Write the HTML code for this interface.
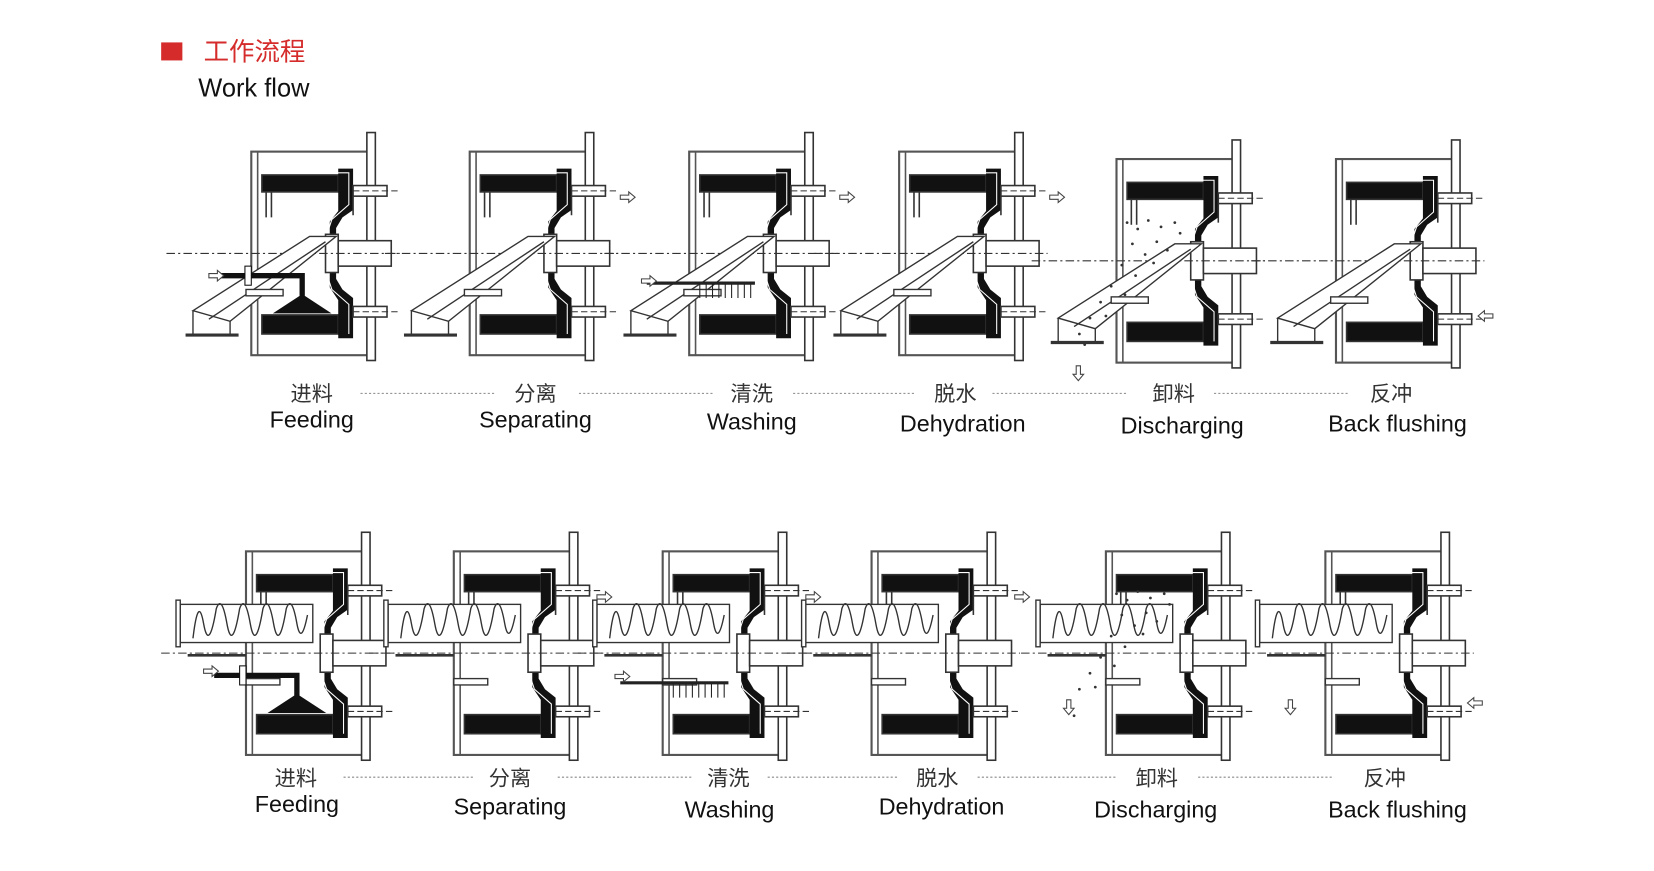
<!DOCTYPE html>
<html><head><meta charset="utf-8"><style>
html,body{margin:0;padding:0;background:#fff;}
svg{display:block;}
text{font-family:"Liberation Sans","Noto Sans CJK SC",sans-serif;}
</style></head><body>
<svg width="1654" height="871" viewBox="0 0 1654 871" xmlns="http://www.w3.org/2000/svg">
<defs>
<g id="m" stroke="#333" stroke-width="1.5" fill="none">
  <rect x="0" y="0" width="113" height="192" stroke="#555" stroke-width="2"/>
  <line x1="6" y1="0" x2="6" y2="192" stroke="#555"/>
  <rect x="109" y="-18" width="8" height="215" fill="#fff"/>
  <rect x="10" y="22" width="72" height="16" fill="#111"/>
  <line x1="14" y1="38" x2="14" y2="62"/><line x1="19" y1="38" x2="19" y2="62"/>
  <rect x="10" y="154" width="72" height="18" fill="#111"/>
  <path d="M82 16 L96 16 L96 55 L86 62 L80 72 L80 120 L86 130 L96 138 L96 176 L82 176 L82 140 L74 128 L74 66 L82 56 Z" fill="#111" stroke="none"/>
  <path d="M78 20 L92 20 L92 50 L76 64 L70 82 L70 112 L76 130 L92 144 L92 172" stroke="#fff" stroke-width="1"/>
  <rect x="70" y="78" width="12" height="36" fill="#fff"/>
  <rect x="82" y="84" width="50" height="24" fill="#fff"/>
  <rect x="96" y="32" width="32" height="10" fill="#fff"/>
  <rect x="96" y="146" width="32" height="10" fill="#fff"/>
  <line x1="96" y1="42" x2="96" y2="60"/>
  <line x1="-80" y1="96" x2="140" y2="96" stroke-dasharray="8,3,2,3" stroke-width="1"/>
  <line x1="96" y1="37" x2="140" y2="37" stroke-dasharray="6,3" stroke-width="1"/>
  <line x1="96" y1="151" x2="140" y2="151" stroke-dasharray="6,3" stroke-width="1"/>
</g>
<g id="chute" stroke="#333" stroke-width="1.3" fill="none">
  <path d="M-55 150 L55 80 L80 80 L-20 160 Z" fill="#fff"/>
  <line x1="-40" y1="158" x2="70" y2="85"/>
  <line x1="-55" y1="150" x2="-55" y2="172"/><line x1="-20" y1="160" x2="-20" y2="172"/>
  <line x1="-62" y1="173" x2="-12" y2="173" stroke-width="3"/>
  <rect x="-5" y="130" width="35" height="6" fill="#fff"/>
</g>
<g id="screw" stroke="#333" stroke-width="1.3" fill="none">
  <rect x="-62" y="50" width="125" height="36" fill="#fff"/>
  <rect x="-66" y="46" width="4" height="44" fill="#fff"/>
  <path d="M-50 82 Q-45 40 -40 68 Q-35 96 -28 54 Q-23 40 -18 68 Q-13 96 -6 54 Q-1 40 4 68 Q9 96 16 54 Q21 40 26 68 Q31 96 38 54 Q43 40 48 68 Q52 90 58 60"/>
  <line x1="-55" y1="98" x2="0" y2="98" stroke-width="2.5"/>
  <rect x="0" y="120" width="32" height="6" fill="#fff"/>
</g>
<g id="spray" stroke="#111" fill="none">
  <path d="M-30 117 L48 117 L48 136" stroke-width="5"/>
  <path d="M48 135 L22 152 L74 152 Z" fill="#111"/>
  <rect x="-6" y="108" width="6" height="18" fill="#fff" stroke-width="1"/>
</g>
<g id="wash" stroke="#222" fill="none" stroke-width="1">
  <line x1="-40" y1="124" x2="62" y2="124" stroke-width="3"/>
  <path d="M10 124 v14 M16 124 v14 M22 124 v14 M28 124 v14 M34 124 v14 M40 124 v14 M46 124 v14 M52 124 v14 M58 124 v14"/>
</g>
<g id="arR" fill="#fff" stroke="#444" stroke-width="1"><path d="M0 -2 h8 v-3 l6 5 -6 5 v-3 h-8 z"/></g>
<g id="arD" fill="#fff" stroke="#444" stroke-width="1"><path d="M-2 0 v8 h-3 l5 6 5 -6 h-3 v-8 z"/></g>
<g id="dots" fill="#333">
  <circle cx="10" cy="60" r="1.3"/><circle cx="20" cy="66" r="1.3"/><circle cx="30" cy="58" r="1.3"/><circle cx="42" cy="64" r="1.3"/><circle cx="55" cy="60" r="1.3"/><circle cx="15" cy="80" r="1.3"/><circle cx="27" cy="90" r="1.3"/><circle cx="38" cy="78" r="1.3"/><circle cx="48" cy="86" r="1.3"/><circle cx="5" cy="100" r="1.3"/><circle cx="18" cy="110" r="1.3"/><circle cx="-5" cy="120" r="1.3"/><circle cx="-15" cy="135" r="1.3"/><circle cx="-25" cy="150" r="1.3"/><circle cx="-35" cy="165" r="1.3"/><circle cx="-30" cy="175" r="1.3"/><circle cx="60" cy="70" r="1.3"/><circle cx="35" cy="98" r="1.3"/><circle cx="8" cy="128" r="1.3"/><circle cx="-10" cy="148" r="1.3"/>
</g>
</defs>
<g transform="scale(1.0603)">
<rect x="152" y="40" width="20" height="17" fill="#d52b2b"/>
<text x="192" y="57" font-size="24" fill="#d52b2b">工作流程</text>
<text x="187" y="91" font-size="24" fill="#111">Work flow</text>

<g transform="translate(237,143)"><use href="#m"/><use href="#chute"/><use href="#spray"/><use href="#arR" transform="translate(-40,117)"/></g>
<g transform="translate(443,143)"><use href="#m"/><use href="#chute"/><use href="#arR" transform="translate(142,43)"/></g>
<g transform="translate(650,143)"><use href="#m"/><use href="#chute"/><use href="#wash"/><use href="#arR" transform="translate(142,43)"/><use href="#arR" transform="translate(-45,122)"/></g>
<g transform="translate(848,143)"><use href="#m"/><use href="#chute"/><use href="#arR" transform="translate(142,43)"/></g>
<g transform="translate(1053,150)"><use href="#m"/><use href="#chute"/><use href="#dots"/><use href="#arD" transform="translate(-36,195)"/></g>
<g transform="translate(1260,150)"><use href="#m"/><use href="#chute"/><use href="#arR" transform="translate(148,148) scale(-1,1)"/></g>

<g transform="translate(232,520)"><use href="#m"/><use href="#screw"/><use href="#spray"/><use href="#arR" transform="translate(-40,113)"/></g>
<g transform="translate(428,520)"><use href="#m"/><use href="#screw"/><use href="#arR" transform="translate(135,43)"/></g>
<g transform="translate(625,520)"><use href="#m"/><use href="#screw"/><use href="#wash"/><use href="#arR" transform="translate(135,43)"/><use href="#arR" transform="translate(-45,118)"/></g>
<g transform="translate(822,520)"><use href="#m"/><use href="#screw"/><use href="#arR" transform="translate(135,43)"/></g>
<g transform="translate(1043,520)"><use href="#m"/><use href="#screw"/><use href="#dots" transform="translate(0,-20)"/><use href="#arD" transform="translate(-35,140)"/></g>
<g transform="translate(1250,520)"><use href="#m"/><use href="#screw"/><use href="#arD" transform="translate(-33,140)"/><use href="#arR" transform="translate(148,143) scale(-1,1)"/></g>

<g font-size="20" fill="#333" text-anchor="middle">
<text x="294" y="378">进料</text><text x="505" y="378">分离</text><text x="709" y="378">清洗</text><text x="901" y="378">脱水</text><text x="1107" y="378">卸料</text><text x="1312" y="378">反冲</text>
<text x="294" y="403" font-size="22" fill="#111">Feeding</text><text x="505" y="403" font-size="22" fill="#111">Separating</text><text x="709" y="405" font-size="22" fill="#111">Washing</text><text x="908" y="407" font-size="22" fill="#111">Dehydration</text><text x="1115" y="409" font-size="22" fill="#111">Discharging</text><text x="1318" y="407" font-size="22" fill="#111">Back flushing</text>
<text x="279" y="741">进料</text><text x="481" y="741">分离</text><text x="687" y="741">清洗</text><text x="884" y="741">脱水</text><text x="1091" y="741">卸料</text><text x="1306" y="741">反冲</text>
<text x="280" y="766" font-size="22" fill="#111">Feeding</text><text x="481" y="768" font-size="22" fill="#111">Separating</text><text x="688" y="771" font-size="22" fill="#111">Washing</text><text x="888" y="768" font-size="22" fill="#111">Dehydration</text><text x="1090" y="771" font-size="22" fill="#111">Discharging</text><text x="1318" y="771" font-size="22" fill="#111">Back flushing</text>
</g>
<g stroke="#888" stroke-width="1" stroke-dasharray="2,2">
<line x1="340" y1="371" x2="466" y2="371"/><line x1="546" y1="371" x2="672" y2="371"/><line x1="748" y1="371" x2="864" y2="371"/><line x1="936" y1="371" x2="1062" y2="371"/><line x1="1145" y1="371" x2="1272" y2="371"/>
<line x1="324" y1="733" x2="448" y2="733"/><line x1="526" y1="733" x2="652" y2="733"/><line x1="724" y1="733" x2="846" y2="733"/><line x1="922" y1="733" x2="1052" y2="733"/><line x1="1130" y1="733" x2="1258" y2="733"/>
</g>
</g>
</svg>
</body></html>
